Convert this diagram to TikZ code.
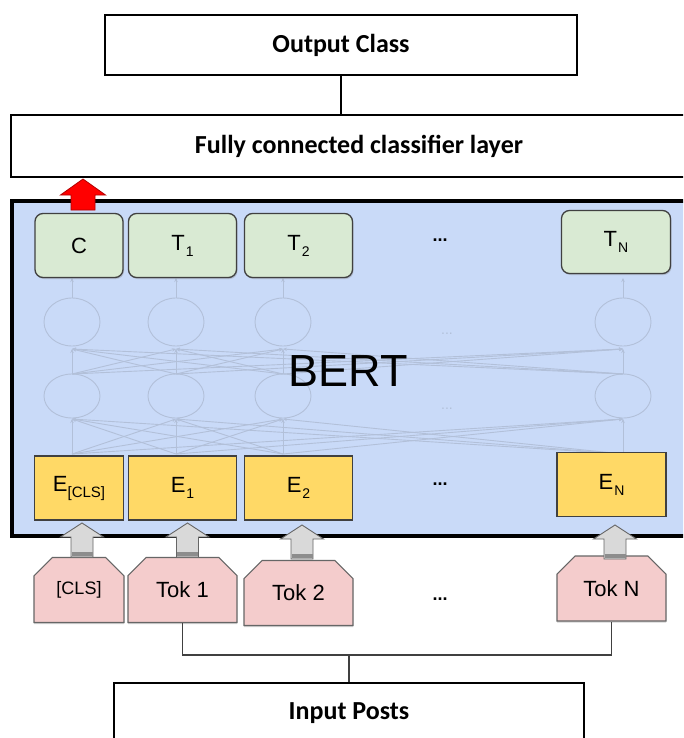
\documentclass[tikz,border=0pt]{standalone}
\usepackage{fontspec}
\setmainfont{Liberation Sans}
\newfontfamily\labelfont{Carlito}
\usetikzlibrary{shapes.misc,arrows.meta,shadows}

\definecolor{bertblue}{HTML}{C9DAF8}
\definecolor{outgreen}{HTML}{D9EAD3}
\definecolor{embyellow}{HTML}{FFD966}
\definecolor{tokpink}{HTML}{F4CCCC}
\definecolor{arrowgrey}{HTML}{D9D9D9}
\definecolor{netgrey}{HTML}{B2C0D9}
\definecolor{edgegrey}{HTML}{404040}

\newcommand\lowsub[2][14]{\raisebox{-6pt}{\fontsize{#1}{#1}\selectfont #2}}

\tikzset{
  whitebox/.style={draw=black, line width=1.8, fill=white, inner sep=0,
    font=\labelfont\bfseries\fontsize{26}{30}\selectfont},
  bertbox/.style={draw=black, line width=3.2, fill=bertblue, inner sep=0},
  outbox/.style={draw=edgegrey, line width=1.3, fill=outgreen, rounded corners=8,
    inner sep=0, minimum height=64,
    drop shadow={shadow xshift=1pt, shadow yshift=-1.5pt, opacity=0.35},
    font=\fontsize{22}{26}\selectfont},
  embbox/.style={draw=edgegrey, line width=1.1, fill=embyellow, inner sep=0,
    minimum height=64, font=\fontsize{22}{26}\selectfont},
  tokbox/.style={chamfered rectangle, chamfered rectangle corners={north west,north east},
    chamfered rectangle xsep=9, chamfered rectangle ysep=10,
    draw=edgegrey!80, line width=1.1, fill=tokpink, inner sep=0, minimum height=65,
    drop shadow={shadow xshift=0pt, shadow yshift=-1.5pt, opacity=0.35},
    font=\fontsize{22}{26}\selectfont},
  dots/.style={font=\bfseries\fontsize{18}{20}\selectfont},
  netline/.style={draw=netgrey, line width=0.9},
  netarrow/.style={netline, -{Stealth[length=4pt,width=3.5pt]}},
  wire/.style={draw=edgegrey, line width=1.3},
  pics/uparrow/.style={code={
    \filldraw[fill=arrowgrey, draw=edgegrey!80, line width=0.9]
      (-11,0) -- (-11,-20) -- (-21.5,-20) -- (0,-34) -- (21.5,-20) -- (11,-20) -- (11,0) -- cycle;
    \fill[edgegrey!60] (-10.5,-1) rectangle (10.5,-5);
  }},
  pics/redarrow/.style={code={
    \filldraw[fill=red, draw=red!70!black, line width=0.8]
      (-12,0) -- (-12,-15) -- (-22.5,-15) -- (0,-31) -- (22.5,-15) -- (12,-15) -- (12,0) -- cycle;
  }},
}

\begin{document}
\begin{tikzpicture}[x=1pt,y=-1pt]
\clip (0,0) rectangle (683,738);
\fill[white] (0,0) rectangle (683,738);

% top: output and classifier layer
\node[whitebox, minimum width=472, minimum height=60] (out) at (341,45) {Output Class};
\node[whitebox, minimum width=696, minimum height=62] (fc) at (359,146) {Fully connected classifier layer};
\draw[line width=1.6] (out.south) -- (out.south |- fc.north);

% BERT encoder block
\node[bertbox, minimum width=690, minimum height=335] (bert) at (357,368.5) {};

% faded transformer network inside the block
\foreach \x in {72,176,283,623} {
  \draw[netline] (\x,322) ellipse [x radius=28, y radius=24];
  \draw[netline] (\x,396) ellipse [x radius=28, y radius=22];
  \draw[netarrow] (\x,298) -- (\x,278);
  \foreach \y in {72,176,283,623} {
    \draw[netarrow] (\y,374) -- (\x,349);
    \draw[netarrow] (\y,454) -- (\x,419);
  }
}
\node[text=netgrey, font=\fontsize{14}{16}\selectfont] (fadedots1) at (447,334) {...};
\node[text=netgrey, font=\fontsize{14}{16}\selectfont] (fadedots2) at (447,409) {...};
\node[font=\fontsize{45}{50}\selectfont] (bertlabel) at (348,371) {BERT};

% output vectors
\node[outbox, minimum width=88] (c) at (79,245.5) {C};
\node[outbox, minimum width=108] (t1) at (182.5,245.5) {T\kern1pt\lowsub{1}};
\node[outbox, minimum width=108] (t2) at (298.5,245.5) {T\kern1pt\lowsub{2}};
\node[dots] (tdots) at (440,240) {...};
\node[outbox, minimum width=109, minimum height=63] (tn) at (616,242) {T\kern1pt\lowsub{N}};

% input embeddings
\node[embbox, minimum width=89] (ecls) at (79,488) {E\lowsub[15]{[CLS]}};
\node[embbox, minimum width=108] (e1) at (182.5,488) {E\kern1pt\lowsub{1}};
\node[embbox, minimum width=108] (e2) at (298.5,488) {E\kern1pt\lowsub{2}};
\node[dots] (edots) at (440,484) {...};
\node[embbox, minimum width=109] (en) at (611.5,484.5) {E\kern1pt\lowsub{N}};

% classification output passed up to the classifier
\pic at (83,210) {redarrow};

% input tokens
\node[tokbox, minimum width=90, font=\fontsize{18}{22}\selectfont] (tcls) at (79,590) {[CLS]};
\node[tokbox, minimum width=109] (tok1) at (182.5,590) {Tok 1};
\node[tokbox, minimum width=109] (tok2) at (298.5,593) {Tok 2};
\node[dots] (tokdots) at (440,599) {...};
\node[tokbox, minimum width=109] (tokn) at (611.5,588.5) {Tok N};

% token to embedding arrows
\pic at (82,557) {uparrow};
\pic at (187.5,557) {uparrow};
\pic at (302,559) {uparrow};
\pic at (615,559) {uparrow};

% input posts and tokenisation wiring
\node[whitebox, minimum width=470, minimum height=60] (input) at (349,713) {Input Posts};
\coordinate (join) at (349,655);
\draw[wire] (tok1.south) -- (tok1.south |- join) -- (tokn.south |- join) -- (tokn.south);
\draw[wire] (join) -- (input.north);
\end{tikzpicture}
\end{document}
